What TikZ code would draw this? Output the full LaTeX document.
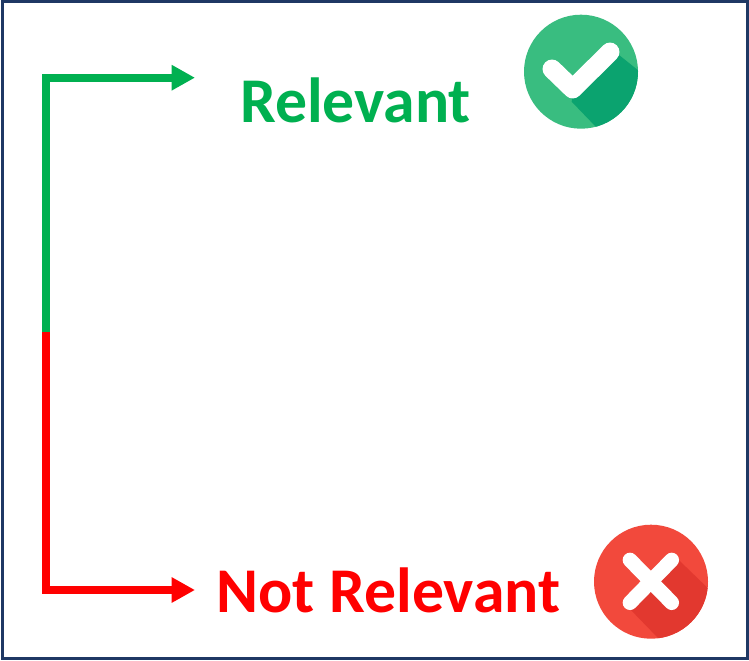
\documentclass[tikz,border=0pt]{standalone}
\usepackage{fontspec}
\setmainfont{Carlito}
\usetikzlibrary{arrows.meta}
\definecolor{frameblue}{HTML}{1F3864}
\definecolor{relgreen}{HTML}{00B050}
\definecolor{notred}{HTML}{FF0000}
\definecolor{oklight}{HTML}{39BD80}
\definecolor{okdark}{HTML}{0BA36F}
\definecolor{nolight}{HTML}{F2493C}
\definecolor{nodark}{HTML}{E2382F}
\tikzset{
  x=0.75pt,y=-0.75pt,
  bracket/.style={line width=6.2pt,-{Triangle[length=17.5pt,width=18pt]}},
  label text/.style={font=\fontsize{47.8}{57}\selectfont\bfseries,inner sep=0pt,anchor=base},
  badge/.style={circle,inner sep=0pt,minimum size=85.5pt},
  glyph/.style={draw=white,line cap=round,line join=round},
}
\begin{document}
\begin{tikzpicture}
\useasboundingbox (0,0) rectangle (749,660);
\fill[white] (0,0) rectangle (749,660);
\node[draw=frameblue,line width=2pt,inner sep=0pt,outer sep=0pt,minimum width=558.8pt,minimum height=493pt,anchor=north west] (frame) at (2.7,1.3) {};
\coordinate (split) at (46,332);
\coordinate (greentip) at (195,77.7);
\coordinate (redtip) at (195,590);
\draw[bracket,relgreen] (split) |- (greentip);
\draw[bracket,notred] (split) |- (redtip);
\node[label text,text=relgreen] (relevant) at (355.5,122) {Relevant};
\node[label text,text=notred] (notrelevant) at (388.5,612) {Not Relevant};
% check badge
\node[badge,fill=oklight] (ok) at (581,71.7) {};
\begin{scope}
\clip (ok.center) circle (57);
\fill[okdark] (619,55) -- (639,71) -- (665,100) -- (625,156) -- (596,127) -- (571.7,101.7) -- (572.7,88) -- cycle;
\end{scope}
\draw[glyph,line width=14.2pt] (552,69) -- (572.7,89) -- (610,52);
% cross badge
\node[badge,fill=nolight] (no) at (651,581.7) {};
\begin{scope}
\clip (no.center) circle (57);
\fill[nodark] (676.7,558) -- (708,588.3) -- (730,640) -- (680,668) -- (658,638) -- (628,607) -- (651,581.7) -- cycle;
\end{scope}
\draw[glyph,line width=11pt] (630,560) -- (671.7,602.7);
\draw[glyph,line width=11pt] (671.7,560) -- (630,602.7);
\end{tikzpicture}
\end{document}
